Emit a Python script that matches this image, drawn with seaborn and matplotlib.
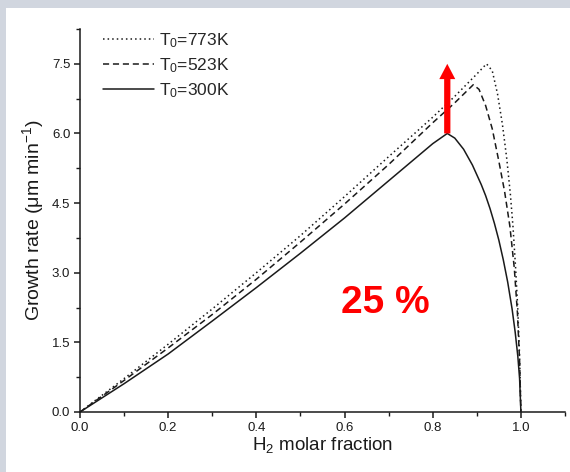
import matplotlib
matplotlib.use("Agg")
import matplotlib.pyplot as plt
from matplotlib.patches import Rectangle
from matplotlib.ticker import MultipleLocator
import seaborn as sns
import pandas as pd

# H2 molar fraction vs. growth rate for three inlet temperatures
x_773 = [0, 0.1, 0.2, 0.3, 0.4, 0.5, 0.6, 0.7, 0.8, 0.85, 0.9, 0.922,
         0.935, 0.947, 0.958, 0.968, 0.976, 0.982, 0.988, 0.993, 0.997, 1.0]
y_773 = [0, 0.72, 1.46, 2.22, 3.0, 3.8, 4.64, 5.5, 6.35, 6.8, 7.28, 7.5,
         7.35, 6.85, 6.2, 5.45, 4.7, 4.0, 3.1, 2.2, 1.2, 0]

x_523 = [0, 0.1, 0.2, 0.3, 0.4, 0.5, 0.6, 0.7, 0.8, 0.85, 0.892, 0.905,
         0.92, 0.935, 0.95, 0.963, 0.975, 0.985, 0.992, 0.997, 1.0]
y_523 = [0, 0.68, 1.38, 2.1, 2.86, 3.66, 4.48, 5.33, 6.23, 6.66, 7.05, 6.95,
         6.6, 6.1, 5.4, 4.75, 4.0, 3.1, 2.15, 1.1, 0]

x_300 = [0, 0.1, 0.2, 0.3, 0.4, 0.5, 0.6, 0.7, 0.8, 0.833, 0.85, 0.87,
         0.89, 0.91, 0.92, 0.93, 0.94, 0.95, 0.96, 0.97, 0.98, 0.987,
         0.993, 0.997, 1.0]
y_300 = [0, 0.61, 1.25, 1.96, 2.68, 3.42, 4.18, 4.98, 5.78, 6.0, 5.9, 5.66,
         5.32, 4.9, 4.66, 4.38, 4.06, 3.7, 3.28, 2.8, 2.22, 1.72,
         1.2, 0.72, 0]

labels = ["T$_0$=773K", "T$_0$=523K", "T$_0$=300K"]
x_ticks = [0.0, 0.2, 0.4, 0.6, 0.8, 1.0]
y_ticks = [0.0, 1.5, 3.0, 4.5, 6.0, 7.5]
increase_text = "25 %"

sns.set_theme(style="ticks")
plt.rcParams["font.family"] = ["Liberation Sans", "DejaVu Sans"]
plt.rcParams["mathtext.fontset"] = "custom"
plt.rcParams["mathtext.rm"] = "Liberation Sans"
plt.rcParams["mathtext.it"] = "Liberation Sans:italic"
plt.rcParams["mathtext.default"] = "regular"

fig = plt.figure(figsize=(5.7, 4.72), dpi=100)
fig.patch.set_facecolor("#d1d6df")
fig.patches.append(Rectangle((6 / 570, 0), 1, (472 - 8) / 472,
                             transform=fig.transFigure, facecolor="white",
                             edgecolor="none", zorder=-5))

ax = fig.add_axes([80 / 570, 60 / 472, 485 / 570, 383 / 472])
ax.set_facecolor("white")

series = [
    (x_773, y_773, labels[0], (0, (1, 2))),
    (x_523, y_523, labels[1], (0, (4, 2.5))),
    (x_300, y_300, labels[2], "-"),
]
handles = []
for xs, ys, lab, ls in series:
    df = pd.DataFrame({"x": xs, "y": ys})
    sns.lineplot(data=df, x="x", y="y", ax=ax, color="#1a1a1a", lw=1.1,
                 sort=False, estimator=None, label=lab)
    line = ax.lines[-1]
    line.set_linestyle(ls)
    handles.append(line)

ax.set_xlim(0, 1.1)
ax.set_ylim(0, 8.25)
ax.set_xticks(x_ticks)
ax.set_yticks(y_ticks)
ax.set_xticklabels([f"{v:.1f}" for v in x_ticks])
ax.set_yticklabels([f"{v:.1f}" for v in y_ticks])
ax.xaxis.set_minor_locator(MultipleLocator(0.1))
ax.yaxis.set_minor_locator(MultipleLocator(0.75))

for side in ["top", "right"]:
    ax.spines[side].set_visible(False)
for side in ["left", "bottom"]:
    ax.spines[side].set_linewidth(1.1)
    ax.spines[side].set_color("#1a1a1a")

ax.tick_params(which="major", direction="out", length=4, width=1.1,
               colors="#1a1a1a", labelsize=9.5, pad=3)
ax.tick_params(which="minor", direction="out", length=3, width=1.0,
               colors="#1a1a1a")

ax.set_xlabel("H$_2$ molar fraction", fontsize=13.5, color="#1a1a1a", labelpad=1)
ax.set_ylabel("Growth rate (μm min$^{-1}$)", fontsize=14, color="#1a1a1a",
              labelpad=4)

ax.legend(handles=handles, labels=labels, loc="upper left", frameon=False,
          bbox_to_anchor=(0.034, 1.012), fontsize=12.5, handlelength=2.9,
          handletextpad=0.3, labelspacing=0.36, borderaxespad=0)

# Red arrow from the 300 K peak up to the 773 K peak level
x_peak = x_300[y_300.index(max(y_300))]
ax.annotate("", xy=(x_peak, max(y_773)), xytext=(x_peak, max(y_300)),
            arrowprops=dict(arrowstyle="simple,head_width=1.15,head_length=1.1,tail_width=0.45",
                            mutation_scale=10, color="red", lw=0,
                            shrinkA=0, shrinkB=0))

ax.text(0.692, 2.13, increase_text, color="red", fontsize=28,
        fontweight="bold", ha="center", va="baseline")

fig.savefig("out.png", dpi=100, facecolor=fig.get_facecolor())
